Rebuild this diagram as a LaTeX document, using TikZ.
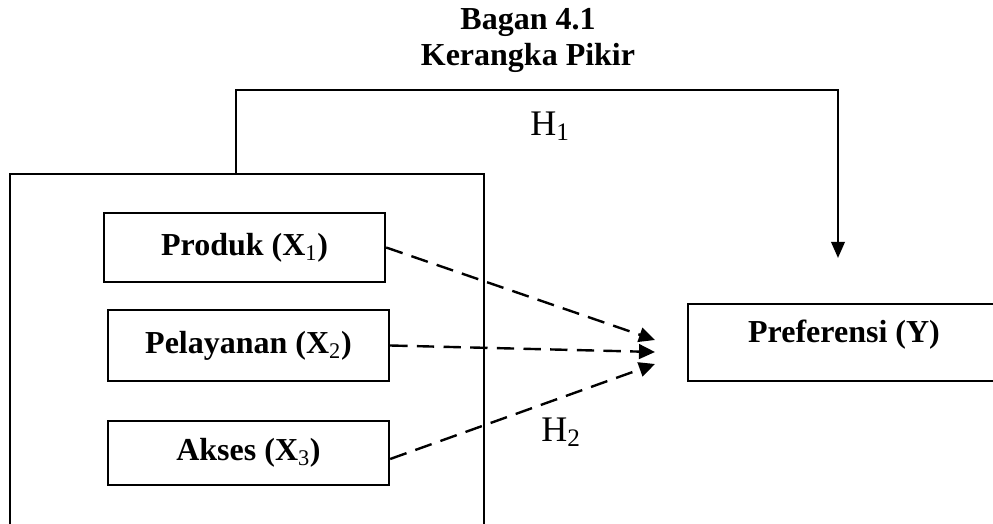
\documentclass[tikz,border=0pt]{standalone}
\usepackage{fontspec}
\setmainfont{Liberation Serif}
\usetikzlibrary{arrows.meta}

\tikzset{
  varbox/.style={draw, line width=1.8pt, minimum width=210.75pt, inner sep=0pt,
    font=\fontsize{24}{28}\selectfont\bfseries},
  hyp/.style={font=\fontsize{27}{30}\selectfont, inner sep=0pt},
  dasharrow/.style={line width=1.8pt, dash pattern=on 13pt off 7pt,
    -{Triangle[length=12pt,width=11pt]}},
}

\begin{document}
\begin{tikzpicture}[x=0.75pt,y=0.75pt,yscale=-1,xscale=1]
\useasboundingbox (0,0) rectangle (993,524);

% Title
\node (title) at (528,40) [align=center, inner sep=0pt,
  font=\fontsize{24}{27}\selectfont\bfseries] {Bagan 4.1\\Kerangka Pikir};

% Outer frame (bottom runs off the page)
\node (frame) at (247,370) [draw, line width=1.8pt, minimum width=355.5pt,
  minimum height=294pt, inner sep=0pt] {};

% Variable boxes
\node (produk) at (244.5,247.5) [varbox, minimum height=51.75pt] {Produk (X\textsubscript{\mdseries 1})};
\node (pelayanan) at (248.5,345.5) [varbox, minimum height=53.25pt] {Pelayanan (X\textsubscript{\mdseries 2})};
\node (akses) at (248.5,453) [varbox, minimum height=48pt] {Akses (X\textsubscript{\mdseries 3})};

% Dependent variable (right side runs off the page)
\node (pref) at (687,342.5) [draw, line width=1.8pt, anchor=west, minimum width=240pt,
  minimum height=57.75pt, inner sep=0pt] {};
\node (preftext) at (844,335) [font=\fontsize{24}{28}\selectfont\bfseries, inner sep=0pt] {Preferensi (Y)};

% Free arrow ends
\coordinate (t1) at (655,340);
\coordinate (t2) at (655,352);
\coordinate (t3) at (655,364);
\coordinate (h1start) at (236,174);
\coordinate (h1corner) at (838,90);
\coordinate (h1end) at (838,258);

% H1
\draw[line width=1.8pt, -{Triangle[length=12pt,width=10pt]}] (h1start) |- (h1corner) -- (h1end);
\node (h1) at (550,126) [hyp] {H\textsubscript{1}};

% H2
\draw[dasharrow] (produk.east) -- (t1);
\draw[dasharrow] (pelayanan.east) -- (t2);
\draw[dasharrow] ([yshift=4.5pt]akses.east) -- (t3);
\node (h2) at (561,432) [hyp] {H\textsubscript{2}};

\end{tikzpicture}
\end{document}
